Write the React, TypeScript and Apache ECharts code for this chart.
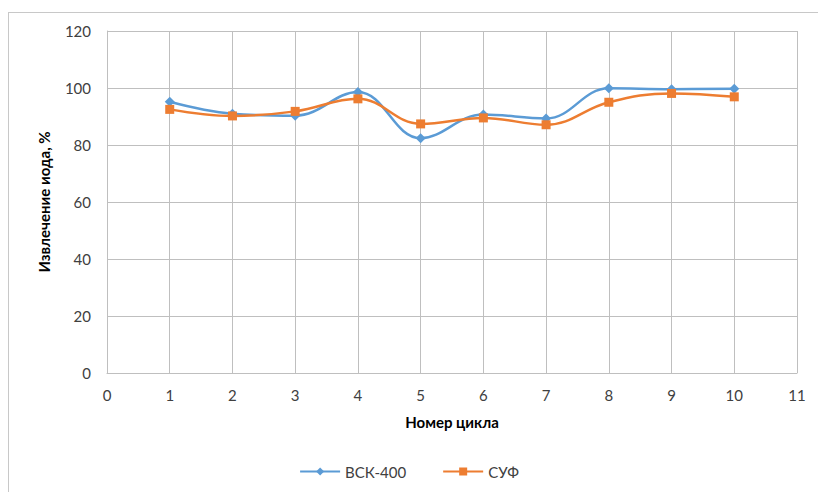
import React, { useEffect, useRef } from "react";
import * as echarts from "echarts";

const cycles = [1, 2, 3, 4, 5, 6, 7, 8, 9, 10];
const vsk400 = [95.2, 91.0, 90.3, 98.6, 82.4, 90.7, 89.3, 99.9, 99.6, 99.7];
const suf = [92.5, 90.2, 91.8, 96.2, 87.4, 89.5, 87.1, 95.0, 98.1, 96.9];
const seriesNames = ["ВСК-400", "СУФ"];
const xTitle = "Номер цикла";
const yTitle = "Извлечение иода, %";

const FONT = "Lato, 'Open Sans', sans-serif";
const GRID = "#BFBFBF";

export default function App() {
  const ref = useRef<HTMLDivElement>(null);
  useEffect(() => {
    document.body.style.margin = "0";
    const chart = echarts.init(ref.current!, null, { renderer: "svg" });
    const pair = (arr: number[]) => cycles.map((c, i) => [c, arr[i]]);
    chart.setOption({
      animation: false,
      backgroundColor: "#ffffff",
      textStyle: { fontFamily: FONT },
      grid: { left: 107, top: 31, right: 21, bottom: 119, containLabel: false },
      xAxis: {
        type: "value",
        min: 0,
        max: 11,
        interval: 1,
        name: xTitle,
        nameLocation: "middle",
        nameGap: 41,
        nameTextStyle: { fontFamily: FONT, fontWeight: "bold", fontSize: 15, color: "#000" },
        axisLine: { show: true, lineStyle: { color: GRID, width: 1 } },
        axisTick: { show: false },
        axisLabel: { fontFamily: FONT, fontSize: 15, color: "#404040", margin: 14 },
        splitLine: { show: true, lineStyle: { color: GRID, width: 1 } },
      },
      yAxis: {
        type: "value",
        min: 0,
        max: 120,
        interval: 20,
        name: yTitle,
        nameLocation: "middle",
        nameGap: 56,
        nameRotate: 90,
        nameTextStyle: { fontFamily: FONT, fontWeight: "bold", fontSize: 15, color: "#000" },
        axisLine: { show: true, lineStyle: { color: GRID, width: 1 } },
        axisTick: { show: false },
        axisLabel: { fontFamily: FONT, fontSize: 15, color: "#404040", margin: 16 },
        splitLine: { show: true, lineStyle: { color: GRID, width: 1 } },
      },
      legend: {
        bottom: 8,
        left: "center",
        itemWidth: 40,
        itemHeight: 10,
        itemGap: 36,
        textStyle: { fontFamily: FONT, fontSize: 15, color: "#404040" },
        data: seriesNames,
      },
      graphic: [
        { type: "line", shape: { x1: 8.5, y1: 12, x2: 8.5, y2: 492 }, style: { stroke: "#C8C8C8", lineWidth: 1 }, silent: true },
        { type: "line", shape: { x1: 8, y1: 12.5, x2: 818, y2: 12.5 }, style: { stroke: "#C8C8C8", lineWidth: 1 }, silent: true },
        { type: "line", shape: { x1: 797.5, y1: 31, x2: 797.5, y2: 373 }, style: { stroke: GRID, lineWidth: 1 }, silent: true },
      ],
      series: [
        {
          name: seriesNames[0],
          type: "line",
          data: pair(vsk400),
          smooth: 0.4,
          symbol: "diamond",
          symbolSize: 10,
          lineStyle: { color: "#5B9BD5", width: 2.5 },
          itemStyle: { color: "#5B9BD5" },
        },
        {
          name: seriesNames[1],
          type: "line",
          data: pair(suf),
          smooth: 0.4,
          symbol: "rect",
          symbolSize: 9,
          lineStyle: { color: "#ED7D31", width: 2.5 },
          itemStyle: { color: "#ED7D31" },
        },
      ],
    });
    return () => chart.dispose();
  }, []);
  return <div ref={ref} style={{ width: 818, height: 492 }} />;
}
